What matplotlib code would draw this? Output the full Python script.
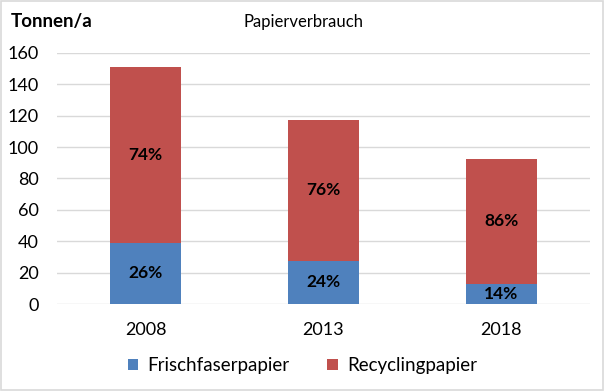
import matplotlib
matplotlib.use('Agg')
import matplotlib.pyplot as plt
from matplotlib.patches import Rectangle

# data
years = ["2008", "2013", "2018"]
frischfaser = [39, 27.5, 13]
recycling = [112, 90, 79.5]
pct_frisch = ["26%", "24%", "14%"]
pct_recycling = ["74%", "76%", "86%"]
y_ticks = [0, 20, 40, 60, 80, 100, 120, 140, 160]

blue = "#4f81bd"
red = "#c0504d"

plt.rcParams['font.family'] = ['Lato', 'DejaVu Sans']

fig = plt.figure(figsize=(6.05, 3.91), dpi=100)
fig.patch.set_facecolor("white")
fig.add_artist(Rectangle((0.002, 0.003), 0.995, 0.994, transform=fig.transFigure,
                         fill=False, edgecolor="#d9d9d9", linewidth=1.2))

ax = fig.add_axes([0.094, 0.2225, 0.881, 0.642])
x = range(len(years))
ax.bar(x, frischfaser, width=0.4, color=blue, zorder=3, label="Frischfaserpapier")
ax.bar(x, recycling, width=0.4, bottom=frischfaser, color=red, zorder=3, label="Recyclingpapier")

for i in x:
    ax.text(i, frischfaser[i] / 2, pct_frisch[i], ha="center", va="center",
            fontsize=12.5, fontweight="bold", color="black", zorder=4)
    ax.text(i, frischfaser[i] + recycling[i] / 2, pct_recycling[i], ha="center", va="center",
            fontsize=12.5, fontweight="bold", color="black", zorder=4)

ax.set_xlim(-0.5, 2.5)
ax.set_ylim(0, 160)
ax.set_yticks(y_ticks)
ax.set_xticks(list(x))
ax.set_xticklabels(years)
ax.tick_params(axis="both", length=0, labelsize=13, colors="black")
ax.tick_params(axis="x", pad=13)
ax.tick_params(axis="y", pad=13)
for lbl in ax.get_yticklabels():
    lbl.set_horizontalalignment("right")
ax.grid(axis="y", color="#d9d9d9", linewidth=1, zorder=0)
for s in ax.spines.values():
    s.set_visible(False)

fig.text(0.017, 0.944, "Tonnen/a", fontsize=13.5, fontweight="bold", va="center")
fig.text(0.501, 0.944, "Papierverbrauch", fontsize=12, ha="center", va="center")

fig.legend(loc="center", bbox_to_anchor=(0.5, 0.065), ncol=2, frameon=False,
           fontsize=13.5, handlelength=0.55, handleheight=0.55, columnspacing=2.0,
           handletextpad=0.5)

fig.savefig("out.png", dpi=100)
